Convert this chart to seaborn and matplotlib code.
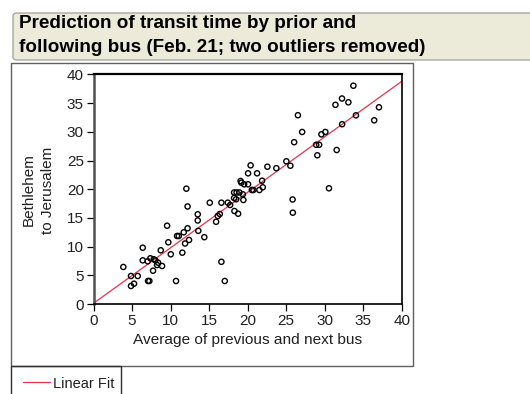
import numpy as np
import pandas as pd
import matplotlib
matplotlib.use("Agg")
import matplotlib.pyplot as plt
from matplotlib.patches import FancyBboxPatch, Rectangle
from matplotlib.lines import Line2D
import seaborn as sns

# Average of previous and next bus (minutes)
avg_prev_next = [
    3.87, 4.87, 4.87, 5.26, 5.74, 6.39, 6.39, 7.08, 7.25, 7.04,
    7.38, 7.73, 7.82, 8.03, 8.25, 8.38, 8.73, 8.90, 9.55, 9.71,
    10.03, 10.71, 10.84, 11.06, 11.53, 11.71, 11.88, 12.05, 12.21, 12.21,
    12.40, 13.53, 13.53, 13.60, 14.38, 15.09, 15.91, 16.13, 16.39, 16.60,
    16.60, 17.04, 17.43, 17.73, 18.25, 18.25, 18.29, 18.77, 18.51, 18.94,
    19.09, 19.19, 19.38, 19.45, 19.55, 20.06, 20.06, 20.39, 20.55, 20.75,
    21.23, 21.53, 21.88, 21.97, 22.57, 23.73, 25.03, 25.55, 25.84, 25.87,
    26.04, 26.53, 27.08, 28.90, 29.29, 29.05, 29.58, 30.09, 30.56, 31.56,
    31.40, 32.25, 33.08, 32.27, 33.73, 34.06, 36.43, 37.05, 18.57,
]

# Bethlehem to Jerusalem transit time (minutes)
transit_time = [
    6.45, 4.88, 3.14, 3.54, 4.88, 9.81, 7.61, 4.01, 4.01, 7.44,
    7.96, 5.80, 7.79, 7.61, 6.79, 7.20, 9.36, 6.62, 13.64, 10.75,
    8.66, 4.01, 11.85, 11.85, 8.94, 12.49, 10.54, 20.09, 16.99, 13.19,
    11.15, 15.63, 14.55, 12.75, 11.64, 17.65, 14.32, 15.33, 15.68, 17.65,
    7.35, 4.01, 17.65, 17.25, 19.43, 18.47, 16.20, 15.73, 18.24, 19.43,
    21.43, 21.13, 19.11, 18.12, 20.85, 20.85, 22.77, 24.16, 19.86, 19.86,
    22.77, 19.86, 21.48, 20.33, 23.92, 23.66, 24.86, 24.09, 18.21, 15.91,
    28.19, 32.89, 29.97, 27.74, 27.74, 25.91, 29.56, 29.97, 20.16, 26.83,
    34.70, 35.80, 35.14, 31.32, 38.03, 32.87, 32.00, 34.27, 19.43,
]

tick_values = [0, 5, 10, 15, 20, 25, 30, 35, 40]
title_lines = ["Prediction of transit time by prior and",
               "following bus (Feb. 21; two outliers removed)"]

df = pd.DataFrame({"avg": avg_prev_next, "transit": transit_time})

sns.set_theme(style="white")
plt.rcParams["font.family"] = ["Liberation Sans", "DejaVu Sans"]

W, H = 530, 394
fig = plt.figure(figsize=(W / 100, H / 100), dpi=100)
fig.patch.set_facecolor("white")


def fx(px):
    return px / W


def fy(py):
    return 1 - py / H


# Title banner
banner = FancyBboxPatch((fx(13), fy(60)), fx(560) - fx(13), fy(13) - fy(60),
                        boxstyle="round,pad=0,rounding_size=0.008",
                        transform=fig.transFigure, facecolor="#ECEAD9",
                        edgecolor="#A8A8A0", linewidth=1.0, zorder=0)
fig.patches.append(banner)
fig.text(fx(19), fy(23), title_lines[0], fontsize=13.55, fontweight="bold",
         va="center", ha="left", color="black")
fig.text(fx(19), fy(47), title_lines[1], fontsize=13.55, fontweight="bold",
         va="center", ha="left", color="black")

# Outer report panel and legend box
panel = Rectangle((fx(10.5), fy(365.5)), fx(413) - fx(10.5), fy(63) - fy(365.5),
                  transform=fig.transFigure, facecolor="none",
                  edgecolor="#606060", linewidth=1.0, zorder=0)
fig.patches.append(panel)
legend_box = Rectangle((fx(10.5), fy(400)), fx(120.5) - fx(10.5), fy(365.5) - fy(400),
                       transform=fig.transFigure, facecolor="none",
                       edgecolor="#303030", linewidth=1.0, zorder=0)
fig.patches.append(legend_box)

# Scatter axes
ax = fig.add_axes([fx(93.5), fy(304), fx(401.7) - fx(93.5), fy(74.4) - fy(304)])
ax.set_xlim(0, 40)
ax.set_ylim(0, 40)

sns.scatterplot(data=df, x="avg", y="transit", ax=ax, marker="o", s=14,
                facecolors="none", edgecolor="black", linewidth=1.0, zorder=3)

# Least-squares line across the full axis range
slope, intercept = np.polyfit(df["avg"], df["transit"], 1)
xs = np.array([0, 40])
sns.lineplot(x=xs, y=intercept + slope * xs, ax=ax, color="#E8334A",
             linewidth=0.9, zorder=2)
ax.set_xlim(0, 40)
ax.set_ylim(0, 40)

ax.set_xticks(tick_values)
ax.set_yticks(tick_values)
ax.set_xticklabels([str(t) for t in tick_values])
ax.set_yticklabels([str(t) for t in tick_values])
ax.tick_params(axis="both", which="both", direction="out", length=5, width=0.9,
               color="black", labelsize=11, labelcolor="#202020", pad=2,
               bottom=True, left=True)
for side in ["top", "right", "bottom"]:
    ax.spines[side].set_color("black")
    ax.spines[side].set_linewidth(1.2)
ax.spines["top"].set_linewidth(1.6)
ax.spines["left"].set_color("#505050")
ax.spines["left"].set_linewidth(1.8)

ax.set_xlabel("Average of previous and next bus", fontsize=11.1,
              color="#202020", labelpad=4)
ax.set_ylabel("")
fig.text(fx(38), fy(190), "Bethlehem\nto Jerusalem", rotation=90,
         fontsize=11, color="#202020", ha="center", va="center",
         multialignment="center", linespacing=1.5)

# Legend entry
fig.lines.append(Line2D([fx(22.5), fx(50)], [fy(382), fy(382)],
                        transform=fig.transFigure, color="#E8334A", linewidth=0.9))
fig.text(fx(53), fy(384), "Linear Fit", fontsize=10.5, color="#202020",
         ha="left", va="center")

fig.savefig("out.png", dpi=100)
